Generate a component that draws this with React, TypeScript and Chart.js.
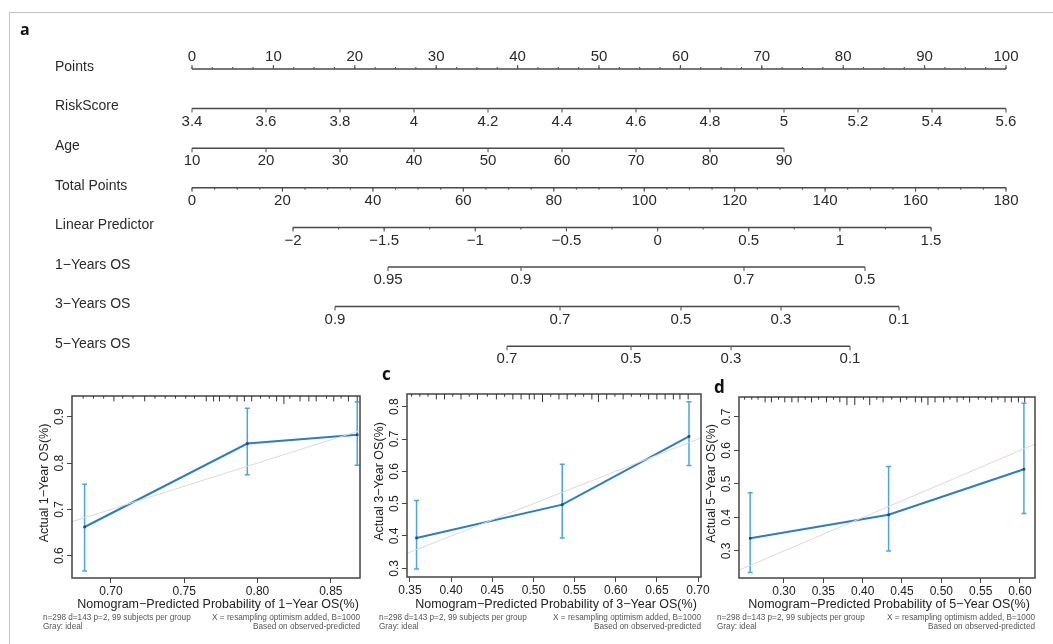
import React, { useEffect, useRef } from 'react';
import { Chart, registerables } from 'chart.js';

Chart.register(...registerables);

const FONT = '"Liberation Sans", Arial, sans-serif';
const LETTER_FONT = '"Open Sans", "DejaVu Sans", sans-serif';

// ---------------- Panel a: nomogram ----------------
const nomogramRows = ['Points', 'RiskScore', 'Age', 'Total Points', 'Linear Predictor', '1−Years OS', '3−Years OS', '5−Years OS'];

const pointsTicks = [0, 10, 20, 30, 40, 50, 60, 70, 80, 90, 100];
const pointsMinorStep = 2.5;

const riskScoreTicks = [3.4, 3.6, 3.8, 4, 4.2, 4.4, 4.6, 4.8, 5, 5.2, 5.4, 5.6];
const riskScoreRange = [3.4, 5.6];
const riskScorePoints = [0, 100];

const ageTicks = [10, 20, 30, 40, 50, 60, 70, 80, 90];
const ageRange = [10, 90];
const agePoints = [0, 72.73];

const totalPointsTicks = [0, 20, 40, 60, 80, 100, 120, 140, 160, 180];
const totalPointsRange = [0, 180];
const totalPointsPoints = [0, 100];
const totalPointsMinorStep = 5;

const lpTicks = [-2, -1.5, -1, -0.5, 0, 0.5, 1, 1.5];
const lpRange = [-2, 1.5];
const lpPoints = [12.41, 90.79];
const lpMinorStep = 0.25;

const os1Labels = ['0.95', '0.9', '0.7', '0.5'];
const os1Pos = [24.08, 40.42, 67.81, 82.68];
const os3Labels = ['0.9', '0.7', '0.5', '0.3', '0.1'];
const os3Pos = [17.57, 45.21, 60.07, 72.36, 86.86];
const os5Labels = ['0.7', '0.5', '0.3', '0.1'];
const os5Pos = [38.7, 53.93, 66.22, 80.84];

// ---------------- Calibration panels ----------------
const predB = [0.682, 0.793, 0.868];
const obsB = [0.662, 0.842, 0.861];
const loB = [0.567, 0.775, 0.795];
const hiB = [0.754, 0.918, 0.932];
const rugB = [0.681, 0.688, 0.695, 0.702, 0.708, 0.715, 0.723, 0.73, 0.737, 0.744, 0.751, 0.757, 0.765, 0.77, 0.774, 0.781, 0.786, 0.791, 0.796, 0.802, 0.808, 0.813, 0.818, 0.822, 0.829, 0.835, 0.84, 0.847, 0.852, 0.857, 0.862, 0.868];
const rugBFreq = [1, 1, 1, 2, 1, 1, 2, 1, 1, 1, 1, 1, 2, 2, 2, 1, 2, 2, 2, 1, 1, 2, 3, 1, 2, 2, 2, 1, 2, 1, 2, 2];

const predC = [0.358, 0.535, 0.689];
const obsC = [0.394, 0.497, 0.708];
const loC = [0.298, 0.394, 0.618];
const hiC = [0.51, 0.622, 0.815];
const rugC = [0.352, 0.362, 0.372, 0.382, 0.392, 0.402, 0.412, 0.422, 0.432, 0.444, 0.455, 0.465, 0.475, 0.485, 0.495, 0.501, 0.511, 0.521, 0.531, 0.541, 0.551, 0.561, 0.571, 0.579, 0.589, 0.599, 0.609, 0.619, 0.63, 0.64, 0.65, 0.66, 0.67, 0.678, 0.688];
const rugCFreq = [1, 1, 1, 2, 2, 1, 2, 1, 2, 1, 2, 1, 2, 2, 2, 2, 3, 1, 2, 2, 1, 1, 2, 3, 2, 1, 2, 1, 1, 2, 2, 2, 2, 2, 2];

const predD = [0.257, 0.433, 0.605];
const obsD = [0.338, 0.408, 0.544];
const loD = [0.236, 0.3, 0.412];
const hiD = [0.474, 0.552, 0.741];
const rugD = [0.25, 0.259, 0.267, 0.276, 0.284, 0.293, 0.301, 0.31, 0.318, 0.327, 0.335, 0.344, 0.354, 0.363, 0.371, 0.38, 0.39, 0.401, 0.409, 0.418, 0.426, 0.437, 0.448, 0.456, 0.467, 0.475, 0.483, 0.492, 0.503, 0.511, 0.52, 0.528, 0.536, 0.547, 0.556, 0.564, 0.572, 0.581, 0.589, 0.598, 0.606];
const rugDFreq = [1, 1, 1, 2, 2, 1, 2, 2, 2, 1, 2, 1, 2, 1, 2, 3, 3, 1, 3, 1, 2, 1, 2, 1, 2, 2, 3, 2, 2, 1, 2, 1, 2, 1, 1, 2, 1, 2, 2, 2, 2];

const footLine1Left = 'n=298 d=143 p=2, 99 subjects per group';
const footLine1Right = 'X = resampling optimism added, B=1000';
const footLine2Left = 'Gray: ideal';
const footLine2Right = 'Based on observed-predicted';

const fmt = (v: number) => String(v).replace('-', '−');

function linearRow(ticks: number[], range: number[], pts: number[], minorStep?: number) {
  const map = (v: number) => pts[0] + ((v - range[0]) / (range[1] - range[0])) * (pts[1] - pts[0]);
  const minor: number[] = [];
  if (minorStep) {
    const n = Math.round((range[1] - range[0]) / minorStep);
    for (let k = 0; k <= n; k++) minor.push(map(range[0] + k * minorStep));
  }
  return {
    ticks: ticks.map((v) => ({ pos: map(v), label: fmt(v) })),
    minor,
    start: map(range[0]),
    end: map(range[1]),
  };
}

function posRow(labels: string[], pos: number[]) {
  return {
    ticks: labels.map((l, i) => ({ pos: pos[i], label: l })),
    minor: [] as number[],
    start: pos[0],
    end: pos[pos.length - 1],
  };
}

function buildRows() {
  const list = [
    linearRow(pointsTicks, [0, 100], [0, 100], pointsMinorStep),
    linearRow(riskScoreTicks, riskScoreRange, riskScorePoints),
    linearRow(ageTicks, ageRange, agePoints),
    linearRow(totalPointsTicks, totalPointsRange, totalPointsPoints, totalPointsMinorStep),
    linearRow(lpTicks, lpRange, lpPoints, lpMinorStep),
    posRow(os1Labels, os1Pos),
    posRow(os3Labels, os3Pos),
    posRow(os5Labels, os5Pos),
  ];
  return list.map((r, i) => ({ ...r, name: nomogramRows[i], above: i === 0 }));
}

function Nomogram() {
  const ref = useRef<HTMLCanvasElement>(null);
  useEffect(() => {
    const rows = buildRows();
    const datasets = rows.map((r, i) => ({
      label: r.name,
      data: [{ x: r.start, y: i }, { x: r.end, y: i }],
      showLine: true,
      borderColor: '#4a4a4a',
      borderWidth: 1.5,
      pointRadius: 0,
      clip: false as any,
    }));
    const plugin = {
      id: 'nomoText',
      afterDatasetsDraw(chart: any) {
        const ctx = chart.ctx;
        const xs = chart.scales.x;
        const ys = chart.scales.y;
        ctx.save();
        ctx.strokeStyle = '#555';
        ctx.lineWidth = 1.1;
        ctx.fillStyle = '#2a2a2a';
        rows.forEach((r, i) => {
          const y = ys.getPixelForValue(i);
          const dir = r.above ? -1 : 1;
          ctx.font = `14px ${FONT}`;
          ctx.textAlign = 'left';
          ctx.textBaseline = 'middle';
          ctx.fillText(r.name, 55, y - 2);
          r.minor.forEach((p) => {
            const x = xs.getPixelForValue(p);
            ctx.beginPath();
            ctx.moveTo(x, y);
            ctx.lineTo(x, y + dir * 2);
            ctx.stroke();
          });
          ctx.textAlign = 'center';
          ctx.font = `15px ${FONT}`;
          r.ticks.forEach((t) => {
            const x = xs.getPixelForValue(t.pos);
            ctx.beginPath();
            ctx.moveTo(x, y);
            ctx.lineTo(x, y + dir * 4);
            ctx.stroke();
            ctx.fillText(t.label, x, y + (r.above ? -12 : 13));
          });
        });
        ctx.font = `bold 16px ${LETTER_FONT}`;
        ctx.textAlign = 'left';
        ctx.textBaseline = 'alphabetic';
        ctx.fillStyle = '#111';
        ctx.fillText('a', 20, 35);
        ctx.restore();
      },
    };
    const chart = new Chart(ref.current as HTMLCanvasElement, {
      type: 'scatter',
      data: { datasets: datasets as any },
      options: {
        animation: false,
        responsive: false,
        events: [],
        layout: { padding: { left: 192, right: 47, top: 0, bottom: 0 } },
        plugins: { legend: { display: false }, tooltip: { enabled: false } },
        scales: {
          x: { type: 'linear', min: 0, max: 100, display: false },
          y: { type: 'linear', min: -1.742, max: 7.601, reverse: true, display: false },
        },
      },
      plugins: [plugin],
    });
    return () => chart.destroy();
  }, []);
  return <canvas ref={ref} width={1053} height={370} style={{ position: 'absolute', left: 0, top: 0, width: 1053, height: 370 }} />;
}

type PanelCfg = {
  year: string;
  letter: string;
  letterX: number;
  letterY: number;
  pred: number[];
  obs: number[];
  lo: number[];
  hi: number[];
  rug: number[];
  rugFreq: number[];
  xMin: number;
  xMax: number;
  xFirstTick: number;
  yMin: number;
  yMax: number;
  canvas: { left: number; top: number; width: number; height: number };
  area: { left: number; top: number; right: number; bottom: number };
  footLeft: number;
  ideal: string;
};

const panels: PanelCfg[] = [
  {
    year: '1', letter: '', letterX: 0, letterY: 0,
    pred: predB, obs: obsB, lo: loB, hi: hiB, rug: rugB, rugFreq: rugBFreq,
    xMin: 0.6734, xMax: 0.8699, xFirstTick: 0.7, yMin: 0.5519, yMax: 0.9447,
    canvas: { left: 20, top: 370, width: 350, height: 274 },
    area: { left: 72, top: 396, right: 360, bottom: 578 },
    footLeft: 43, ideal: '#dadada',
  },
  {
    year: '3', letter: 'c', letterX: 382, letterY: 380,
    pred: predC, obs: obsC, lo: loC, hi: hiC, rug: rugC, rugFreq: rugCFreq,
    xMin: 0.3464, xMax: 0.7036, xFirstTick: 0.35, yMin: 0.2731, yMax: 0.8393,
    canvas: { left: 362, top: 362, width: 360, height: 282 },
    area: { left: 407, top: 394, right: 701, bottom: 577 },
    footLeft: 379, ideal: '#dadada',
  },
  {
    year: '5', letter: 'd', letterX: 714, letterY: 393,
    pred: predD, obs: obsD, lo: loD, hi: hiD, rug: rugD, rugFreq: rugDFreq,
    xMin: 0.2428, xMax: 0.6191, xFirstTick: 0.3, yMin: 0.2194, yMax: 0.7597,
    canvas: { left: 695, top: 362, width: 358, height: 282 },
    area: { left: 739, top: 397, right: 1035, bottom: 578 },
    footLeft: 717, ideal: '#e3d5d8',
  },
];

const YW = 20;
const XH = 22;

function CalPanel({ cfg }: { cfg: PanelCfg }) {
  const ref = useRef<HTMLCanvasElement>(null);
  useEffect(() => {
    const c = cfg.canvas;
    const a = cfg.area;
    const ox = c.left;
    const oy = c.top;
    const plugin = {
      id: 'calExtras',
      beforeDatasetsDraw(chart: any) {
        const ctx = chart.ctx;
        const xs = chart.scales.x;
        const ys = chart.scales.y;
        ctx.save();
        ctx.strokeStyle = '#4aa6dc';
        ctx.lineWidth = 1.5;
        cfg.pred.forEach((p, i) => {
          const x = xs.getPixelForValue(p);
          const y1 = ys.getPixelForValue(cfg.lo[i]);
          const y2 = ys.getPixelForValue(cfg.hi[i]);
          ctx.beginPath();
          ctx.moveTo(x, y1);
          ctx.lineTo(x, y2);
          ctx.moveTo(x - 2.5, y1);
          ctx.lineTo(x + 2.5, y1);
          ctx.moveTo(x - 2.5, y2);
          ctx.lineTo(x + 2.5, y2);
          ctx.stroke();
        });
        ctx.restore();
      },
      afterDraw(chart: any) {
        const ctx = chart.ctx;
        const xs = chart.scales.x;
        const ys = chart.scales.y;
        const ca = chart.chartArea;
        ctx.save();
        // box
        ctx.strokeStyle = '#444';
        ctx.lineWidth = 1.5;
        ctx.strokeRect(ca.left, ca.top, ca.right - ca.left, ca.bottom - ca.top);
        // rug (distribution of predictions)
        ctx.strokeStyle = '#333';
        ctx.lineWidth = 1;
        cfg.rug.forEach((v, i) => {
          const x = xs.getPixelForValue(v);
          ctx.beginPath();
          ctx.moveTo(x, ca.top);
          ctx.lineTo(x, ca.top + cfg.rugFreq[i] * 2.7);
          ctx.stroke();
        });
        // y tick labels (rotated, R style)
        ctx.fillStyle = '#222';
        ctx.font = `12px ${FONT}`;
        ctx.textAlign = 'center';
        ctx.textBaseline = 'middle';
        ys.ticks.forEach((t: any) => {
          const py = ys.getPixelForValue(t.value);
          ctx.save();
          ctx.translate(ca.left - 12, py);
          ctx.rotate(-Math.PI / 2);
          ctx.fillText(Number(t.value).toFixed(1), 0, 0);
          ctx.restore();
        });
        // y title
        ctx.font = `12.5px ${FONT}`;
        ctx.save();
        ctx.translate(ca.left - 27, (ca.top + ca.bottom) / 2 - 4);
        ctx.rotate(-Math.PI / 2);
        ctx.fillText(`Actual ${cfg.year}−Year OS(%)`, 0, 0);
        ctx.restore();
        // x title
        ctx.font = `12.5px ${FONT}`;
        ctx.fillText(`Nomogram−Predicted Probability of ${cfg.year}−Year OS(%)`, (ca.left + ca.right) / 2 + 2, 605 - oy);
        // foot notes
        ctx.fillStyle = '#555';
        ctx.font = `8.2px ${FONT}`;
        ctx.textAlign = 'left';
        ctx.fillText(footLine1Left, cfg.footLeft - ox, 618 - oy);
        ctx.fillText(footLine2Left, cfg.footLeft - ox, 627 - oy);
        ctx.textAlign = 'right';
        ctx.fillText(footLine1Right, ca.right, 618 - oy);
        ctx.fillText(footLine2Right, ca.right, 627 - oy);
        // panel letter
        if (cfg.letter) {
          ctx.fillStyle = '#111';
          ctx.font = `bold 17px ${LETTER_FONT}`;
          ctx.textAlign = 'left';
          ctx.textBaseline = 'alphabetic';
          ctx.fillText(cfg.letter, cfg.letterX - ox, cfg.letterY - oy);
        }
        ctx.restore();
      },
    };
    const chart = new Chart(ref.current as HTMLCanvasElement, {
      type: 'scatter',
      data: {
        datasets: [
          {
            label: 'ideal',
            data: [{ x: 0, y: 0 }, { x: 1, y: 1 }],
            showLine: true,
            borderColor: cfg.ideal,
            borderWidth: 1,
            pointRadius: 0,
          },
          {
            label: 'calibration',
            data: cfg.pred.map((x, i) => ({ x, y: cfg.obs[i] })),
            showLine: true,
            borderColor: '#2a7fbf',
            borderWidth: 2,
            pointRadius: 1.8,
            pointStyle: 'rect',
            pointBackgroundColor: '#1f3d99',
            pointBorderWidth: 0,
          },
        ] as any,
      },
      options: {
        animation: false,
        responsive: false,
        events: [],
        layout: {
          padding: {
            left: a.left - c.left - YW,
            top: a.top - c.top,
            right: c.left + c.width - a.right,
            bottom: c.top + c.height - a.bottom - XH,
          },
        },
        plugins: { legend: { display: false }, tooltip: { enabled: false } },
        scales: {
          x: {
            type: 'linear',
            min: cfg.xMin,
            max: cfg.xMax,
            afterFit: (s: any) => { s.height = XH; },
            afterBuildTicks: (s: any) => {
              s.ticks = s.ticks.filter((t: any) => t.value >= cfg.xFirstTick - 1e-6);
            },
            ticks: {
              stepSize: 0.05,
              includeBounds: false,
              autoSkip: false,
              maxRotation: 0,
              minRotation: 0,
              padding: 1,
              color: '#222',
              font: { family: FONT, size: 12 },
              callback: (v: any) => Number(v).toFixed(2),
            },
            grid: { drawOnChartArea: false, drawTicks: true, tickLength: 5, color: '#444', lineWidth: 1 },
            border: { display: false },
          },
          y: {
            type: 'linear',
            min: cfg.yMin,
            max: cfg.yMax,
            afterFit: (s: any) => { s.width = YW; },
            ticks: { stepSize: 0.1, includeBounds: false, display: false },
            grid: { drawOnChartArea: false, drawTicks: true, tickLength: 5, color: '#444', lineWidth: 1 },
            border: { display: false },
          },
        } as any,
      },
      plugins: [plugin],
    });
    return () => chart.destroy();
  }, [cfg]);
  const c = cfg.canvas;
  return (
    <canvas
      ref={ref}
      width={c.width}
      height={c.height}
      style={{ position: 'absolute', left: c.left, top: c.top, width: c.width, height: c.height }}
    />
  );
}

export default function App() {
  return (
    <div style={{ position: 'fixed', left: 0, top: 0, width: 1053, height: 644, background: '#fff', overflow: 'hidden' }}>
      <div
        style={{
          position: 'absolute',
          left: 9,
          top: 12,
          width: 1044,
          height: 632,
          borderTop: '1px solid #c4c4c4',
          borderLeft: '1px solid #c4c4c4',
          boxSizing: 'border-box',
        }}
      />
      <Nomogram />
      {panels.map((p, i) => (
        <CalPanel key={i} cfg={p} />
      ))}
    </div>
  );
}
